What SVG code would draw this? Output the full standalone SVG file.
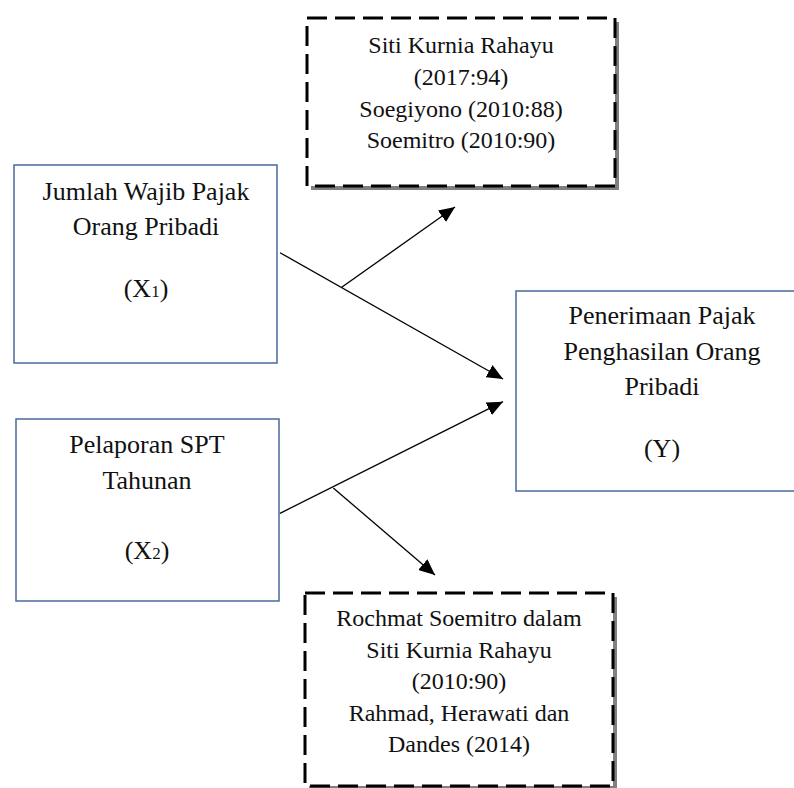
<svg xmlns="http://www.w3.org/2000/svg" width="794" height="788" viewBox="0 0 794 788">
<style>
.solid{fill:#fff;stroke:#4a6a9c;stroke-width:1.5}
.dash{fill:#fff;stroke:#000;stroke-width:3;stroke-dasharray:20 8}
.shadow{fill:#808080}
.t{font-family:"Liberation Serif","Times New Roman",serif;fill:#111;text-anchor:middle}
.big{font-size:26px}
.small{font-size:24px}
.conn{stroke:#000;stroke-width:1.3;fill:none;marker-end:url(#ah)}
</style>
<defs>
<marker id="ah" viewBox="0 0 16 14" refX="16" refY="7" markerWidth="16" markerHeight="14" markerUnits="userSpaceOnUse" orient="auto">
<path d="M0,0 L16,7 L0,14 Z" fill="#000"/>
</marker>
</defs>
<rect width="794" height="788" fill="#fff"/>
<g id="ref-top">
<rect class="shadow" x="311" y="22" width="308" height="168"/>
<rect class="dash" x="307" y="18" width="308" height="168"/>
<text class="t small" x="461" y="53">Siti Kurnia Rahayu</text>
<text class="t small" x="461" y="85">(2017:94)</text>
<text class="t small" x="461" y="117">Soegiyono (2010:88)</text>
<text class="t small" x="461" y="148">Soemitro (2010:90)</text>
</g>
<g id="x1">
<rect class="solid" x="14" y="165" width="263" height="198"/>
<text class="t big" x="146" y="200">Jumlah Wajib Pajak</text>
<text class="t big" x="146" y="235">Orang Pribadi</text>
<text class="t big" x="146" y="297">(X<tspan font-size="17">1</tspan>)</text>
</g>
<g id="x2">
<rect class="solid" x="16" y="419" width="263" height="182"/>
<text class="t big" x="147" y="453">Pelaporan SPT</text>
<text class="t big" x="147" y="489">Tahunan</text>
<text class="t big" x="147" y="559">(X<tspan font-size="17">2</tspan>)</text>
</g>
<g id="y">
<rect class="solid" x="516" y="291" width="300" height="200"/>
<text class="t big" x="662" y="324">Penerimaan Pajak</text>
<text class="t big" x="662" y="360">Penghasilan Orang</text>
<text class="t big" x="662" y="395">Pribadi</text>
<text class="t big" x="662" y="457">(Y)</text>
</g>
<g id="ref-bottom">
<rect class="shadow" x="309" y="597" width="308" height="193"/>
<rect class="dash" x="305" y="593" width="308" height="193"/>
<text class="t small" x="459" y="626">Rochmat Soemitro dalam</text>
<text class="t small" x="459" y="658">Siti Kurnia Rahayu</text>
<text class="t small" x="459" y="689">(2010:90)</text>
<text class="t small" x="459" y="721">Rahmad, Herawati dan</text>
<text class="t small" x="459" y="752">Dandes (2014)</text>
</g>
<g id="connectors">
<path class="conn" d="M280,252.7 L503,379"/>
<path class="conn" d="M341.7,287.3 L455,207"/>
<path class="conn" d="M280,513.3 L503,401.7"/>
<path class="conn" d="M333.3,488 L435,575"/>
</g>
</svg>
